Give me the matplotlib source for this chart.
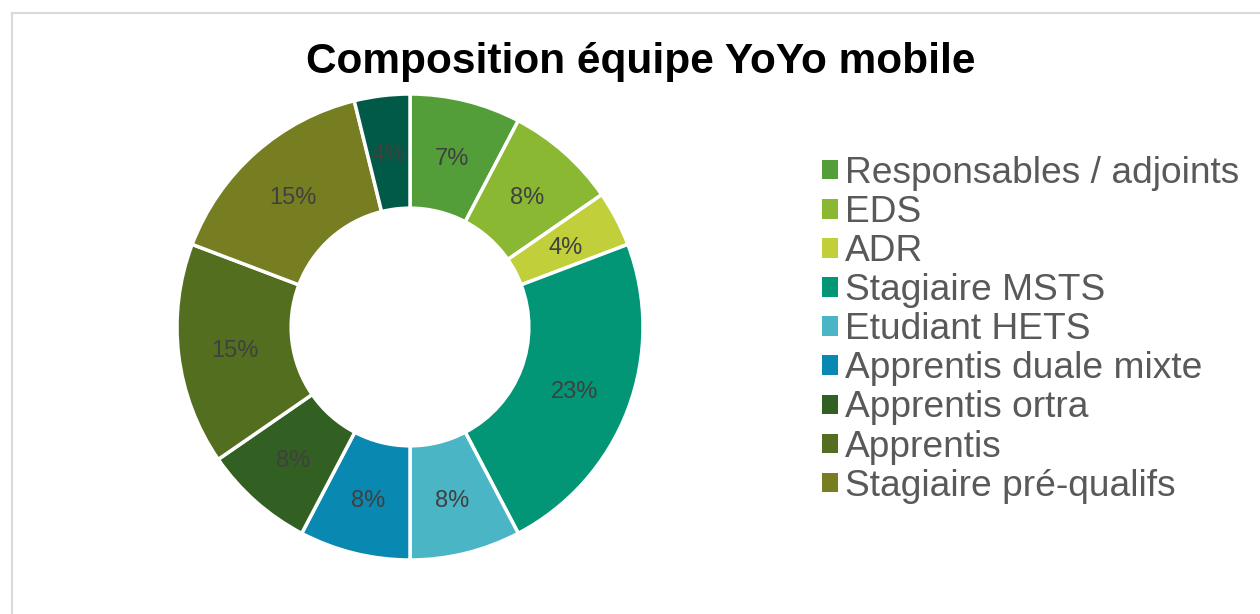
import matplotlib
matplotlib.use("Agg")
import matplotlib.pyplot as plt
from matplotlib.patches import Patch
from matplotlib.lines import Line2D
import numpy as np

categories = ["Responsables / adjoints", "EDS", "ADR", "Stagiaire MSTS", "Etudiant HETS",
              "Apprentis duale mixte", "Apprentis ortra", "Apprentis", "Stagiaire pré-qualifs",
              "Autre"]
values = [2, 2, 1, 6, 2, 2, 2, 4, 4, 1]
pct_labels = ["7%", "8%", "4%", "23%", "8%", "8%", "8%", "15%", "15%", "4%"]
colors = ["#549E39", "#8AB833", "#C0CF3A", "#029676", "#4AB5C4",
          "#0989B1", "#325F22", "#536E1F", "#777E21", "#015A47"]
legend_count = 9
title = "Composition équipe YoYo mobile"

plt.rcParams['font.family'] = ['Liberation Sans', 'DejaVu Sans']

W, H = 1260, 614
fig = plt.figure(figsize=(W / 100, H / 100), dpi=100)

# chart border (light grey frame, cut at right/bottom)
fig.add_artist(Line2D([12 / W, 12 / W], [0, (H - 13) / H], color="#D9D9D9", lw=1.5,
                      transform=fig.transFigure))
fig.add_artist(Line2D([12 / W, 1], [(H - 13) / H, (H - 13) / H], color="#D9D9D9", lw=1.5,
                      transform=fig.transFigure))

cx, cy, R = 410, H - 327, 233
ax = fig.add_axes([(cx - R) / W, (cy - R) / H, 2 * R / W, 2 * R / H])
wedges, _ = ax.pie(values, colors=colors, startangle=90, counterclock=False, radius=1,
                   wedgeprops=dict(width=0.49, edgecolor="white", linewidth=2.5))
total = sum(values)
cum = 0
for v, lab in zip(values, pct_labels):
    mid = 90 - 360 * (cum + v / 2) / total
    cum += v
    r = 0.755
    ax.text(r * np.cos(np.radians(mid)), r * np.sin(np.radians(mid)) - 0.012, lab,
            ha="center", va="center", fontsize=17, color="#404040")
ax.set_xlim(-1, 1)
ax.set_ylim(-1, 1)
ax.set_aspect("equal")
ax.axis("off")

fig.text(641 / W, (H - 62) / H, title, ha="center", va="center",
         fontsize=30.5, fontweight="bold", color="black")

handles = [Patch(facecolor=c, edgecolor="none") for c in colors[:legend_count]]
fig.legend(handles, categories[:legend_count], loc="upper left",
           bbox_to_anchor=(822 / W, (H - 156) / H), frameon=False,
           fontsize=26.7, labelcolor="#595959", handlelength=0.43, handleheight=0.43,
           handletextpad=0.2, labelspacing=0.11, borderpad=0, borderaxespad=0)

fig.savefig("out.png", dpi=100, facecolor="white")
